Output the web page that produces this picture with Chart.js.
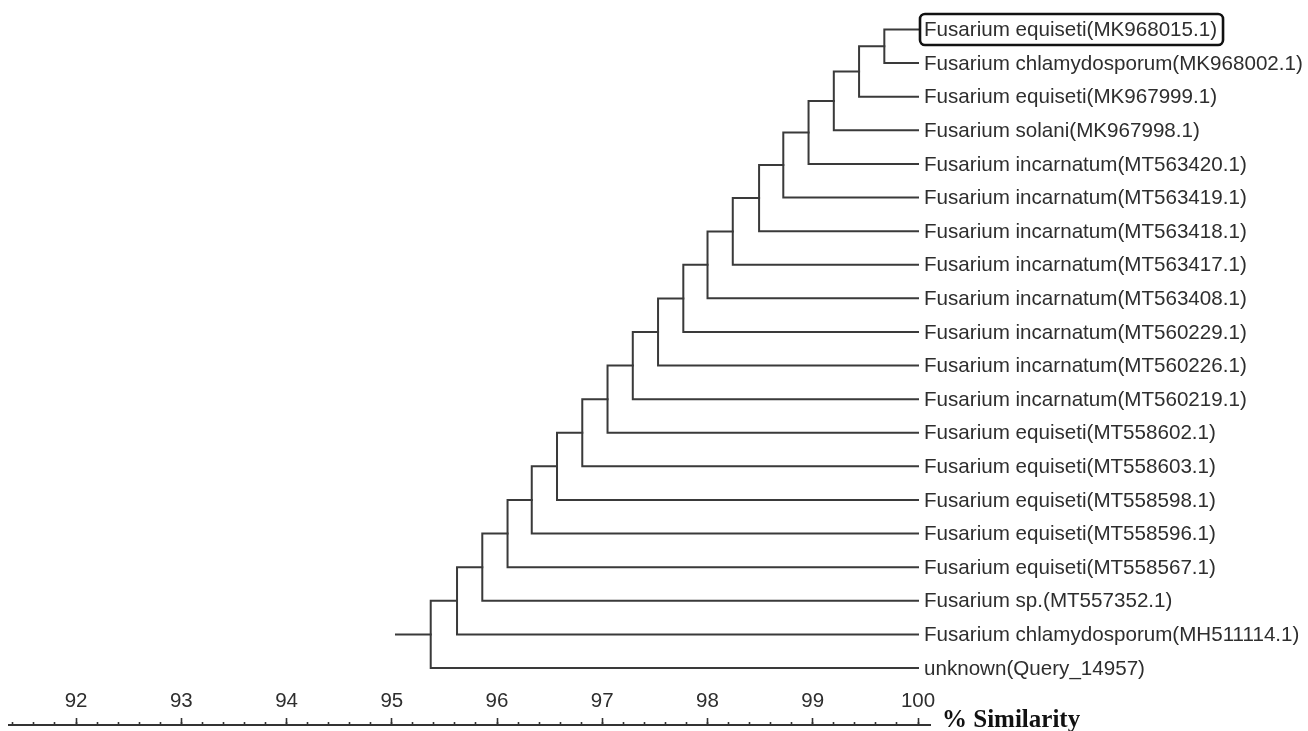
<!DOCTYPE html>
<html>
<head>
<meta charset="utf-8">
<script src="https://cdn.jsdelivr.net/npm/chart.js@4/dist/chart.umd.min.js"></script>
<style>
html,body{margin:0;padding:0;background:#fff;}
canvas{display:block;}
</style>
</head>
<body>
<canvas id="c" width="1308" height="731"></canvas>
<script>
// ---- data ----
const leafNames = [
  'Fusarium equiseti(MK968015.1)',
  'Fusarium chlamydosporum(MK968002.1)',
  'Fusarium equiseti(MK967999.1)',
  'Fusarium solani(MK967998.1)',
  'Fusarium incarnatum(MT563420.1)',
  'Fusarium incarnatum(MT563419.1)',
  'Fusarium incarnatum(MT563418.1)',
  'Fusarium incarnatum(MT563417.1)',
  'Fusarium incarnatum(MT563408.1)',
  'Fusarium incarnatum(MT560229.1)',
  'Fusarium incarnatum(MT560226.1)',
  'Fusarium incarnatum(MT560219.1)',
  'Fusarium equiseti(MT558602.1)',
  'Fusarium equiseti(MT558603.1)',
  'Fusarium equiseti(MT558598.1)',
  'Fusarium equiseti(MT558596.1)',
  'Fusarium equiseti(MT558567.1)',
  'Fusarium sp.(MT557352.1)',
  'Fusarium chlamydosporum(MH511114.1)',
  'unknown(Query_14957)'
];
// similarity (%) at which each successive leaf joins the cluster above it
const mergeSimilarity = [99.68, 99.44, 99.20, 98.96, 98.72, 98.49, 98.24, 98.00, 97.77, 97.53,
                         97.29, 97.05, 96.81, 96.57, 96.33, 96.10, 95.86, 95.62, 95.37];
const leafSimilarity = 100;
const rootStubStart = 95.04;
const majorTicks = [92, 93, 94, 95, 96, 97, 98, 99, 100];
const tickLabels = ['92', '93', '94', '95', '96', '97', '98', '99', '100'];
const axisTitle = '% Similarity';
const highlightedLeaf = 0;

// ---- layout constants ----
const X_MIN = 91.363, X_MAX = 100.114;
const Y_MIN = -0.8778, Y_MAX = 20.875;
const AXIS_ROW = 20.696;
const LINE_COLOR = '#3a3a3a';
const TEXT_COLOR = '#2e2e2e';
const SANS = '"Liberation Sans", Arial, sans-serif';

Chart.defaults.font.family = SANS;

// build the bracket paths of the dendrogram
const datasets = [];
let prev = {x: leafSimilarity, y: 0};
mergeSimilarity.forEach((h, k) => {
  const leaf = {x: leafSimilarity, y: k + 1};
  datasets.push({
    data: [{x: prev.x, y: prev.y}, {x: h, y: prev.y}, {x: h, y: leaf.y}, {x: leaf.x, y: leaf.y}]
  });
  prev = {x: h, y: (prev.y + leaf.y) / 2};
});
datasets.push({data: [{x: rootStubStart, y: prev.y}, {x: prev.x, y: prev.y}]});
datasets.forEach(d => Object.assign(d, {
  showLine: true, borderColor: LINE_COLOR, borderWidth: 2, pointRadius: 0,
  tension: 0, fill: false, borderJoinStyle: 'miter', borderCapStyle: 'square'
}));

const labelPlugin = {
  id: 'leafLabels',
  afterDraw(chart) {
    const ctx = chart.ctx, xs = chart.scales.x, ys = chart.scales.y;
    ctx.save();
    ctx.font = '20.6px ' + SANS;
    ctx.fillStyle = TEXT_COLOR;
    ctx.textAlign = 'left';
    ctx.textBaseline = 'middle';
    const lx = xs.getPixelForValue(leafSimilarity) + 6;
    leafNames.forEach((n, i) => ctx.fillText(n, lx, ys.getPixelForValue(i) + 1));
    // highlight box
    const w = ctx.measureText(leafNames[highlightedLeaf]).width;
    const cy = ys.getPixelForValue(highlightedLeaf);
    ctx.lineWidth = 2.6;
    ctx.strokeStyle = '#111';
    ctx.beginPath();
    ctx.roundRect(lx - 4, cy - 15.5, w + 10, 31, 5);
    ctx.stroke();
    // axis title
    ctx.font = 'bold 25px "Liberation Serif", "Times New Roman", serif';
    ctx.fillStyle = '#111';
    ctx.textBaseline = 'alphabetic';
    ctx.fillText(axisTitle, xs.right + 12, ys.getPixelForValue(AXIS_ROW) + 2);
    ctx.restore();
  }
};

new Chart(document.getElementById('c'), {
  type: 'scatter',
  data: {datasets},
  options: {
    responsive: false,
    animation: false,
    events: [],
    layout: {padding: {left: 9, right: 378, top: 0, bottom: 0}},
    plugins: {legend: {display: false}, tooltip: {enabled: false}, title: {display: false}},
    scales: {
      x: {
        type: 'linear', axis: 'x', min: X_MIN, max: X_MAX,
        position: {y: AXIS_ROW},
        afterBuildTicks: s => { s.ticks = majorTicks.map(v => ({value: v})); },
        ticks: {
          autoSkip: false, maxRotation: 0, padding: -28, color: TEXT_COLOR,
          font: {size: 20.5, family: SANS},
          callback: (v, i) => tickLabels[i]
        },
        grid: {drawOnChartArea: false, drawTicks: true, tickLength: -8, tickWidth: 1.6, tickColor: '#333'},
        border: {display: true, color: '#333', width: 2}
      },
      xMinor: {
        type: 'linear', axis: 'x', min: X_MIN, max: X_MAX,
        position: {y: AXIS_ROW},
        ticks: {stepSize: 0.2, includeBounds: false, autoSkip: false, display: false},
        grid: {drawOnChartArea: false, drawTicks: true, tickLength: -4, tickWidth: 1.6, tickColor: '#333'},
        border: {display: true, color: '#333', width: 2}
      },
      y: {type: 'linear', reverse: true, min: Y_MIN, max: Y_MAX, display: false}
    }
  },
  plugins: [labelPlugin]
});
</script>
</body>
</html>
